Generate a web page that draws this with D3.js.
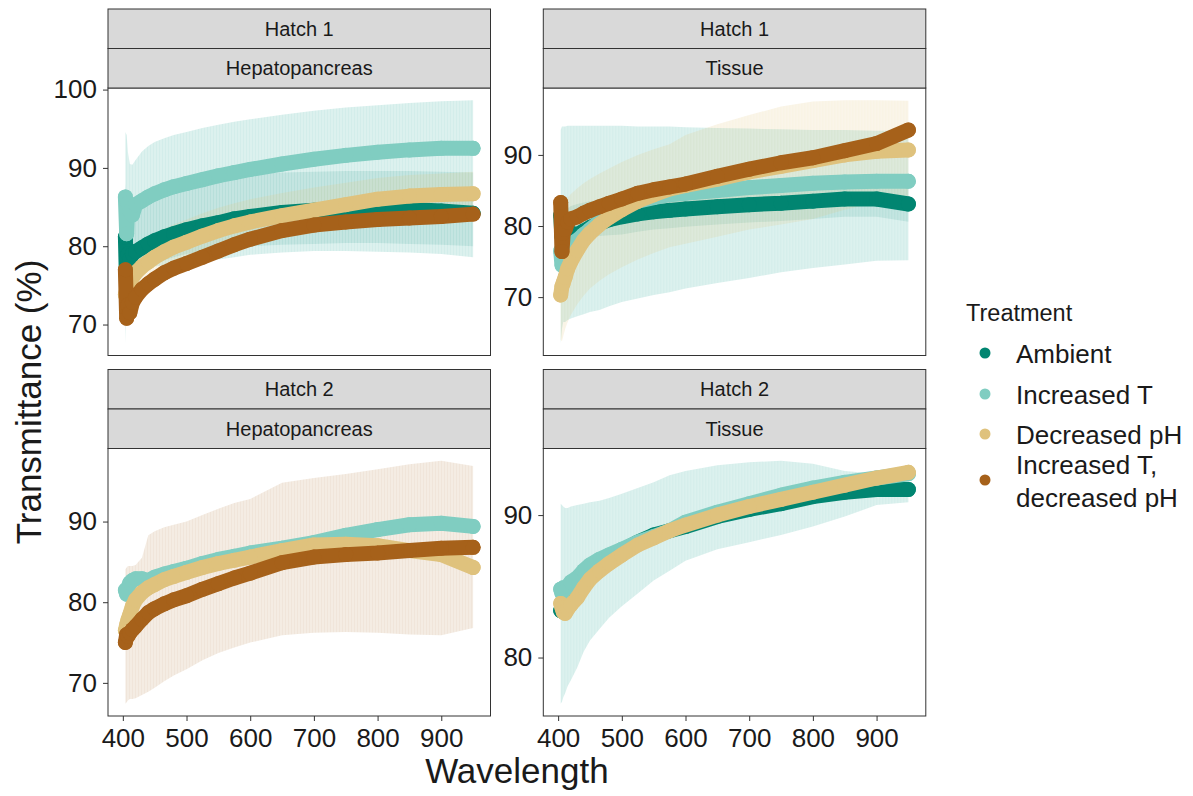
<!DOCTYPE html>
<html>
<head>
<meta charset="utf-8">
<script src="https://cdn.jsdelivr.net/npm/d3@7"></script>
<style>
  body { margin: 0; background: #fff; }
  text { font-family: "Liberation Sans", Arial, sans-serif; }
</style>
</head>
<body>
<svg id="chart" width="1193" height="796"></svg>
<script>
// ---- data ----
const wavelengths = [404, 406, 408, 411, 415, 420, 430, 440, 450, 465, 480, 500, 525, 550, 575, 600, 650, 700, 750, 800, 850, 900, 950];
const treatments = ['Ambient', 'Increased T', 'Decreased pH', 'Increased T, decreased pH'];
const legendLabels = [['Ambient'], ['Increased T'], ['Decreased pH'], ['Increased T,', 'decreased pH']];
const treatmentColors = ['#018571', '#80cdc1', '#dfc27d', '#a6611a'];
const hatches = ['Hatch 1', 'Hatch 1', 'Hatch 2', 'Hatch 2'];
const tissues = ['Hepatopancreas', 'Tissue', 'Hepatopancreas', 'Tissue'];
const xTicks = [400, 500, 600, 700, 800, 900];

// Hatch 1 - Hepatopancreas
const h1HepAmbient   = [81.2, 74.6, 79.0, 78.3, 79.0, 79.3, 79.8, 80.3, 80.7, 81.2, 81.6, 82.1, 82.6, 83.0, 83.5, 83.8, 84.3, 84.6, 84.8, 84.8, 84.7, 84.5, 84.2];
const h1HepAmbientHi = [88.0, 86.0, 86.0, 86.0, 86.0, 86.2, 86.5, 86.8, 87.0, 87.4, 87.7, 88.0, 88.4, 88.7, 89.0, 89.2, 89.4, 89.5, 89.6, 89.6, 89.6, 89.5, 89.4];
const h1HepAmbientLo = [74.0, 72.0, 73.0, 73.5, 74.5, 75.5, 76.5, 77.2, 77.7, 78.2, 78.6, 79.0, 79.3, 79.6, 79.8, 80.0, 80.2, 80.3, 80.4, 80.4, 80.3, 80.2, 80.0];
const h1HepIncT      = [86.3, 81.6, 85.5, 84.5, 84.0, 85.3, 85.8, 86.3, 86.7, 87.2, 87.6, 88.0, 88.5, 89.0, 89.4, 89.8, 90.5, 91.1, 91.6, 92.0, 92.3, 92.5, 92.5];
const h1HepIncTHi    = [94.6, 94.2, 92.0, 90.5, 90.4, 91.0, 92.1, 92.8, 93.3, 93.8, 94.2, 94.6, 95.1, 95.5, 95.9, 96.2, 96.8, 97.3, 97.7, 98.0, 98.3, 98.5, 98.65];
const h1HepIncTLo    = [67.6, 72.0, 75.5, 76.5, 76.5, 76.8, 77.0, 77.2, 77.4, 77.6, 77.8, 78.0, 78.1, 78.3, 78.6, 78.9, 79.2, 79.4, 79.4, 79.3, 79.2, 79.0, 78.6];
const h1HepDecPH     = [73.8, 74.5, 75.0, 75.5, 76.0, 76.6, 77.4, 78.0, 78.6, 79.3, 79.9, 80.5, 81.3, 82.0, 82.6, 83.1, 83.9, 84.6, 85.3, 86.0, 86.4, 86.6, 86.7];
const h1HepDecPHHi   = [77.0, 77.5, 78.0, 78.5, 79.0, 79.5, 80.3, 81.0, 81.5, 82.2, 82.8, 83.4, 84.2, 84.9, 85.5, 86.0, 86.8, 87.5, 88.1, 88.7, 89.1, 89.3, 89.5];
const h1HepDecPHLo   = [70.5, 71.5, 72.0, 72.5, 73.0, 73.6, 74.5, 75.1, 75.7, 76.4, 77.0, 77.6, 78.4, 79.1, 79.7, 80.2, 81.0, 81.7, 82.5, 83.2, 83.6, 83.8, 83.9];
const h1HepIncTDecPH = [77.0, 70.8, 72.5, 71.5, 72.8, 73.5, 74.5, 75.2, 75.8, 76.6, 77.2, 77.8, 78.6, 79.4, 80.2, 80.9, 82.0, 82.7, 83.1, 83.4, 83.6, 83.8, 84.1];

// Hatch 1 - Tissue
const h1TisAmbient   = [81.5, 78.5, 80.0, 79.5, 79.0, 79.0, 78.8, 79.3, 79.8, 80.4, 80.9, 81.3, 81.7, 82.0, 82.2, 82.4, 82.7, 83.0, 83.2, 83.5, 83.8, 83.8, 83.1];
const h1TisAmbientHi = [84.0, 81.0, 82.5, 82.0, 82.5, 82.8, 83.1, 83.3, 83.5, 83.6, 83.7, 83.8, 84.2, 84.5, 84.7, 84.9, 85.2, 85.5, 85.7, 86.0, 86.3, 86.3, 85.6];
const h1TisAmbientLo = [79.0, 76.0, 77.5, 77.0, 77.5, 77.8, 78.1, 78.3, 78.5, 78.6, 78.7, 78.8, 79.2, 79.5, 79.7, 79.9, 80.2, 80.5, 80.7, 81.0, 81.3, 81.3, 80.6];
const h1TisIncT      = [76.5, 74.5, 77.5, 76.5, 77.0, 77.5, 78.0, 78.8, 79.5, 80.6, 81.5, 82.6, 83.5, 84.0, 84.4, 84.6, 85.0, 85.4, 85.7, 86.0, 86.2, 86.3, 86.3];
const h1TisIncTHi    = [93.5, 94.0, 94.0, 94.0, 94.1, 94.1, 94.1, 94.1, 94.1, 94.1, 94.1, 94.1, 94.0, 94.0, 94.0, 93.9, 93.8, 93.7, 93.6, 93.5, 93.5, 93.4, 93.4];
const h1TisIncTLo    = [63.5, 65.5, 66.5, 66.5, 66.8, 67.0, 67.3, 67.6, 67.9, 68.2, 68.7, 69.3, 69.8, 70.3, 70.7, 71.2, 72.0, 72.7, 73.5, 74.1, 74.6, 75.1, 75.2];
const h1TisDecPH     = [70.3, 71.5, 72.0, 72.8, 74.0, 75.0, 76.6, 78.0, 79.0, 80.2, 81.2, 82.3, 83.5, 84.4, 85.2, 85.7, 86.6, 87.6, 88.4, 89.2, 90.0, 90.5, 90.7];
const h1TisDecPHHi   = [80.0, 82.0, 83.0, 83.5, 84.0, 84.5, 85.3, 86.0, 86.6, 87.4, 88.1, 89.0, 90.0, 90.8, 91.5, 92.8, 94.3, 95.6, 96.8, 97.5, 97.7, 97.7, 97.6];
const h1TisDecPHLo   = [64.0, 63.8, 64.5, 65.5, 66.5, 67.5, 69.0, 70.2, 71.2, 72.3, 73.2, 74.2, 75.3, 76.2, 77.0, 77.5, 78.5, 79.5, 80.2, 81.0, 82.3, 83.3, 83.8];
const h1TisIncTDecPH = [83.3, 76.4, 79.0, 79.5, 80.5, 81.0, 81.3, 81.8, 82.2, 82.7, 83.2, 83.8, 84.6, 85.1, 85.5, 85.9, 87.0, 88.0, 88.9, 89.6, 90.6, 91.6, 93.5];

// Hatch 2 - Hepatopancreas
const h2HepIncT        = [81.5, 81.0, 81.8, 82.4, 82.7, 82.9, 82.9, 82.7, 83.1, 83.5, 83.8, 84.2, 84.8, 85.3, 85.7, 86.1, 86.7, 87.4, 88.3, 89.0, 89.6, 89.8, 89.4];
const h2HepDecPH       = [76.5, 77.2, 77.8, 78.5, 79.5, 80.3, 81.2, 81.8, 82.2, 82.8, 83.2, 83.7, 84.3, 84.8, 85.2, 85.6, 86.4, 87.1, 87.2, 87.0, 86.4, 85.9, 84.3];
const h2HepIncTDecPH   = [75.0, 76.0, 75.8, 76.2, 76.6, 77.0, 77.9, 78.7, 79.2, 79.8, 80.3, 80.8, 81.6, 82.3, 83.0, 83.6, 84.9, 85.6, 85.9, 86.1, 86.4, 86.7, 86.8];
const h2HepIncTDecPHHi = [84.1, 84.3, 84.5, 84.5, 84.5, 84.6, 85.5, 88.3, 88.8, 89.3, 89.6, 90.0, 90.8, 91.6, 92.3, 92.8, 94.8, 95.4, 95.9, 96.5, 97.1, 97.55, 96.9];
const h2HepIncTDecPHLo = [67.4, 67.6, 67.8, 68.0, 68.0, 68.1, 68.5, 68.9, 69.4, 70.2, 70.9, 71.7, 72.8, 73.7, 74.4, 75.0, 75.9, 76.2, 76.3, 76.2, 76.0, 75.9, 76.8];

// Hatch 2 - Tissue
const h2TisAmbient = [83.3, 83.5, 83.2, 83.4, 83.8, 84.4, 85.3, 85.9, 86.4, 86.8, 87.1, 87.5, 88.1, 88.6, 88.9, 89.2, 89.9, 90.4, 90.8, 91.3, 91.6, 91.8, 91.8];
const h2TisIncT    = [84.8, 84.5, 84.9, 84.8, 85.0, 85.3, 85.6, 86.1, 86.5, 86.9, 87.2, 87.6, 88.1, 88.5, 88.9, 89.5, 90.2, 90.8, 91.4, 91.9, 92.3, 92.6, 92.9];
const h2TisIncTHi  = [90.8, 90.7, 90.6, 90.5, 90.5, 90.6, 90.7, 90.8, 90.9, 91.0, 91.2, 91.5, 91.9, 92.3, 92.8, 93.1, 93.5, 93.7, 93.82, 93.6, 93.1, 92.9, 93.2];
const h2TisIncTLo  = [76.75, 76.9, 77.2, 77.5, 78.0, 78.4, 79.3, 80.4, 81.2, 82.0, 82.8, 83.6, 84.5, 85.4, 86.1, 86.8, 87.6, 88.1, 88.6, 89.2, 89.9, 90.7, 90.9];
const h2TisDecPH   = [83.8, 83.5, 83.2, 83.1, 83.4, 83.7, 84.2, 84.9, 85.5, 86.1, 86.6, 87.2, 87.9, 88.4, 88.9, 89.3, 90.0, 90.6, 91.1, 91.6, 92.1, 92.6, 93.0];

const panels = [
  { hatch: hatches[0], tissue: tissues[0], col: 0, row: 0, series: [
    { t: 0, mean: h1HepAmbient, hi: h1HepAmbientHi, lo: h1HepAmbientLo },
    { t: 1, mean: h1HepIncT, hi: h1HepIncTHi, lo: h1HepIncTLo },
    { t: 2, mean: h1HepDecPH, hi: h1HepDecPHHi, lo: h1HepDecPHLo },
    { t: 3, mean: h1HepIncTDecPH }
  ]},
  { hatch: hatches[1], tissue: tissues[1], col: 1, row: 0, series: [
    { t: 0, mean: h1TisAmbient, hi: h1TisAmbientHi, lo: h1TisAmbientLo },
    { t: 1, mean: h1TisIncT, hi: h1TisIncTHi, lo: h1TisIncTLo },
    { t: 2, mean: h1TisDecPH, hi: h1TisDecPHHi, lo: h1TisDecPHLo },
    { t: 3, mean: h1TisIncTDecPH }
  ]},
  { hatch: hatches[2], tissue: tissues[2], col: 0, row: 1, series: [
    { t: 1, mean: h2HepIncT },
    { t: 2, mean: h2HepDecPH },
    { t: 3, mean: h2HepIncTDecPH, hi: h2HepIncTDecPHHi, lo: h2HepIncTDecPHLo }
  ]},
  { hatch: hatches[3], tissue: tissues[3], col: 1, row: 1, series: [
    { t: 0, mean: h2TisAmbient },
    { t: 1, mean: h2TisIncT, hi: h2TisIncTHi, lo: h2TisIncTLo },
    { t: 2, mean: h2TisDecPH }
  ]}
];

// ---- layout ----
const colX = [108, 543.3];
const panelW = 382.5;
const rowTop = [9, 369.5];
const stripH = 39.5;
const panelH = 267.5;
const ink = '#1a1a1a';
const frame = '#333333';
// ribbon opacity per treatment (tuned so the washes match the figure)
const ribbonAlpha = [0.13, 0.28, 0.17, 0.12];

const svg = d3.select('#chart');
const defs = svg.append('defs');

// faint vertical striping, like the stacked error bars of the original
treatmentColors.forEach((c, i) => {
  const p = defs.append('pattern')
    .attr('id', 'rib' + i)
    .attr('patternUnits', 'userSpaceOnUse')
    .attr('width', 3).attr('height', 6);
  p.append('rect').attr('width', 3).attr('height', 6).attr('fill', c).attr('fill-opacity', ribbonAlpha[i]);
  p.append('rect').attr('width', 1).attr('height', 6).attr('fill', c).attr('fill-opacity', ribbonAlpha[i] * 0.35);
});

function expand(ext) {
  const pad = (ext[1] - ext[0]) * 0.05;
  return [ext[0] - pad, ext[1] + pad];
}

const x = d3.scaleLinear()
  .domain(expand(d3.extent(wavelengths)))
  .range([0, panelW]);

panels.forEach(panel => {
  const left = colX[panel.col];
  const top = rowTop[panel.row];
  const g = svg.append('g').attr('transform', 'translate(' + left + ',' + (top + 2 * stripH) + ')');

  // y domain: all means and ribbons, ggplot-style 5% expansion
  const allVals = d3.merge(panel.series.map(s => s.mean.concat(s.hi || [], s.lo || [])));
  const y = d3.scaleLinear().domain(expand(d3.extent(allVals))).range([panelH, 0]);

  // strips
  [panel.hatch, panel.tissue].forEach((label, k) => {
    const sy = top + k * stripH;
    svg.append('rect')
      .attr('x', left).attr('y', sy)
      .attr('width', panelW).attr('height', stripH)
      .attr('fill', '#d9d9d9').attr('stroke', frame).attr('stroke-width', 1);
    svg.append('text')
      .attr('x', left + panelW / 2).attr('y', sy + stripH / 2 + 7)
      .attr('text-anchor', 'middle')
      .attr('font-size', 20).attr('fill', ink)
      .text(label);
  });

  g.append('rect').attr('width', panelW).attr('height', panelH).attr('fill', '#fff');

  // ribbons first
  const area = d3.area()
    .x(d => x(d[0]))
    .y0(d => y(d[1]))
    .y1(d => y(d[2]));
  panel.series.filter(s => s.hi).forEach(s => {
    g.append('path')
      .datum(wavelengths.map((w, i) => [w, s.lo[i], s.hi[i]]))
      .attr('d', area)
      .attr('fill', 'url(#rib' + s.t + ')');
  });

  // points (dense, drawn as a thick band plus markers)
  const line = d3.line().x(d => x(d[0])).y(d => y(d[1]));
  panel.series.forEach(s => {
    const pts = wavelengths.map((w, i) => [w, s.mean[i]]);
    const c = treatmentColors[s.t];
    g.append('path')
      .datum(pts)
      .attr('d', line)
      .attr('fill', 'none')
      .attr('stroke', c)
      .attr('stroke-width', 15)
      .attr('stroke-linecap', 'round')
      .attr('stroke-linejoin', 'round');
    g.selectAll(null)
      .data(pts)
      .join('circle')
      .attr('cx', d => x(d[0]))
      .attr('cy', d => y(d[1]))
      .attr('r', 7.5)
      .attr('fill', c);
  });

  g.append('rect').attr('width', panelW).attr('height', panelH)
    .attr('fill', 'none').attr('stroke', frame).attr('stroke-width', 1);

  // y axis
  const yd = y.domain();
  const yTicks = d3.range(Math.ceil(yd[0] / 10) * 10, yd[1], 10);
  const ya = g.append('g')
    .call(d3.axisLeft(y).tickValues(yTicks).tickSize(5).tickPadding(6).tickFormat(d3.format('d')));
  ya.select('.domain').remove();
  ya.selectAll('line').attr('stroke', frame);
  ya.selectAll('text').attr('font-size', 26).attr('fill', ink)
    .attr('font-family', '"Liberation Sans", Arial, sans-serif');

  // x axis only on the bottom row
  if (panel.row === 1) {
    const xa = g.append('g')
      .attr('transform', 'translate(0,' + panelH + ')')
      .call(d3.axisBottom(x).tickValues(xTicks).tickSize(5).tickPadding(8));
    xa.select('.domain').remove();
    xa.selectAll('line').attr('stroke', frame);
    xa.selectAll('text').attr('font-size', 26).attr('fill', ink)
      .attr('font-family', '"Liberation Sans", Arial, sans-serif');
  }
});

// axis titles
svg.append('text')
  .attr('transform', 'translate(41,402) rotate(-90)')
  .attr('text-anchor', 'middle')
  .attr('font-size', 35).attr('fill', ink)
  .text('Transmittance (%)');

svg.append('text')
  .attr('x', (colX[0] + colX[1] + panelW) / 2).attr('y', 783)
  .attr('text-anchor', 'middle')
  .attr('font-size', 35).attr('fill', ink)
  .text('Wavelength');

// legend
const legend = svg.append('g').attr('transform', 'translate(966,0)');
legend.append('text')
  .attr('x', 0).attr('y', 321)
  .attr('font-size', 23.5).attr('fill', ink)
  .text('Treatment');

const keyY = [353, 394, 434, 480];
treatments.forEach((t, i) => {
  legend.append('circle')
    .attr('cx', 19).attr('cy', keyY[i]).attr('r', 5.5)
    .attr('fill', treatmentColors[i]);
  const lines = legendLabels[i];
  const tx = legend.append('text')
    .attr('x', 50)
    .attr('y', keyY[i] + 10 - (lines.length - 1) * 16.5)
    .attr('font-size', 26).attr('fill', ink);
  lines.forEach((l, k) => {
    tx.append('tspan').attr('x', 50).attr('dy', k === 0 ? 0 : 33).text(l);
  });
});
</script>
</body>
</html>
